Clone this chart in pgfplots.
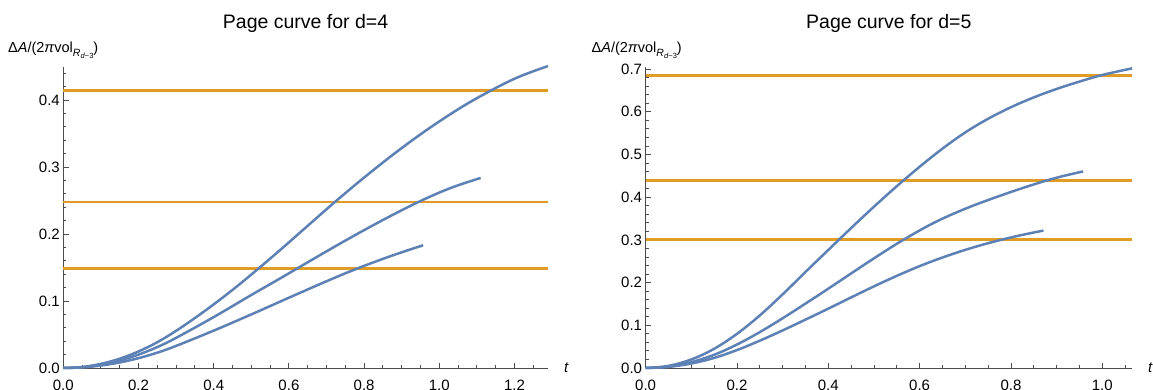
\documentclass[border=0pt]{standalone}
\usepackage{fontspec}
\setmainfont{Liberation Sans}
\usepackage{pgfplots}
\pgfplotsset{compat=1.18}

\definecolor{curveblue}{rgb}{0.368417,0.506779,0.709798}
\definecolor{islandorange}{rgb}{0.880722,0.611041,0.142051}
\definecolor{axisgray}{gray}{0.3}

\newcommand{\ticksize}{\fontsize{15}{17}\selectfont}
\newcommand{\areaLabel}{{\fontsize{14.5}{16}\selectfont Δ\textit{A}/(2\textit{π}vol\raisebox{-3.6pt}{\fontsize{10.5}{12}\selectfont\textit{R}\raisebox{-2.2pt}{\fontsize{7.5}{9}\selectfont\textit{d}−3}})}}

\pgfplotsset{
  pagecurve/.style={
    scale only axis,
    axis lines*=left,
    axis line style={axisgray, line width=0.9pt},
    every tick/.style={axisgray, line width=0.9pt},
    tick align=inside,
    major tick length=5.5pt,
    minor tick length=3pt,
    xmin=0, ymin=0,
    clip=false,
    xticklabel style={/pgf/number format/.cd, fixed, fixed zerofill, precision=1, /tikz/.cd, font=\ticksize, yshift=-8.5pt},
    yticklabel style={/pgf/number format/.cd, fixed, fixed zerofill, precision=1, /tikz/.cd, font=\ticksize},
    /pgf/number format/assume math mode=true,
    xlabel={\textit{t}},
    xlabel style={at={(rel axis cs:1,0)}, anchor=west, inner sep=0pt, xshift=16pt, font=\ticksize},
    blue curve/.style={curveblue, line width=2.5pt, smooth, tension=0.6},
    page line/.style={islandorange, line width=2.7pt},
  }
}

\begin{document}
\begin{tikzpicture}
\useasboundingbox (0,0) rectangle (1153pt,389pt);

% ---------------- d = 4 ----------------
\begin{axis}[pagecurve,
  at={(63.3pt,21pt)}, anchor=south west,
  width=484.7pt, height=300.8pt,
  xmax=1.289, ymax=0.449,
  xtick={0,0.2,0.4,0.6,0.8,1.0,1.2},
  minor xtick={0.05,0.1,0.15,0.25,0.3,0.35,0.45,0.5,0.55,0.65,0.7,0.75,0.85,0.9,0.95,1.05,1.1,1.15,1.25},
  ytick={0,0.1,0.2,0.3,0.4},
  minor ytick={0.02,0.04,0.06,0.08,0.12,0.14,0.16,0.18,0.22,0.24,0.26,0.28,0.32,0.34,0.36,0.38,0.42,0.44},
]
\addplot[page line] coordinates {(0,0.4139) (1.289,0.4139)};
\addplot[page line] coordinates {(0,0.2478) (1.289,0.2478)};
\addplot[page line] coordinates {(0,0.1485) (1.289,0.1485)};

\addplot[blue curve] coordinates {
  (0,0) (0.05,0.0015) (0.1,0.0062) (0.15,0.0139) (0.2,0.0247) (0.25,0.0385)
  (0.3,0.0555) (0.35,0.0746) (0.4,0.095) (0.45,0.1166) (0.5,0.1395) (0.575,0.1753)
  (0.65,0.2123) (0.725,0.2491) (0.8,0.2843) (0.875,0.3177) (0.95,0.3488)
  (1.025,0.3773) (1.1,0.4028) (1.2,0.4318) (1.289,0.4507)
};
\addplot[blue curve] coordinates {
  (0,0) (0.05,0.00125) (0.1,0.005) (0.15,0.01125) (0.2,0.02) (0.25,0.03125)
  (0.3,0.045) (0.4,0.076) (0.5,0.109) (0.575,0.1332) (0.65,0.1578) (0.725,0.1822)
  (0.8,0.2058) (0.875,0.2283) (0.95,0.2493) (1.03,0.2687) (1.11,0.2837)
};
\addplot[blue curve] coordinates {
  (0,0) (0.05,0.0009) (0.1,0.0037) (0.15,0.0083) (0.2,0.0147) (0.25,0.0229)
  (0.3,0.033) (0.4,0.0558) (0.5,0.080) (0.6,0.1049) (0.7,0.1295) (0.775,0.147)
  (0.85,0.1629) (0.91,0.1746) (0.957,0.1832)
};
\end{axis}

% ---------------- d = 5 ----------------
\begin{axis}[pagecurve,
  at={(645.6pt,21pt)}, anchor=south west,
  width=486.4pt, height=301pt,
  xmax=1.065, ymax=0.705,
  xtick={0,0.2,0.4,0.6,0.8,1.0},
  minor xtick={0.05,0.1,0.15,0.25,0.3,0.35,0.45,0.5,0.55,0.65,0.7,0.75,0.85,0.9,0.95,1.05},
  ytick={0,0.1,0.2,0.3,0.4,0.5,0.6,0.7},
  minor ytick={0.02,0.04,0.06,0.08,0.12,0.14,0.16,0.18,0.22,0.24,0.26,0.28,0.32,0.34,0.36,0.38,0.42,0.44,0.46,0.48,0.52,0.54,0.56,0.58,0.62,0.64,0.66,0.68},
]
\addplot[page line] coordinates {(0,0.6855) (1.065,0.6855)};
\addplot[page line] coordinates {(0,0.4396) (1.065,0.4396)};
\addplot[page line] coordinates {(0,0.3014) (1.065,0.3014)};

\addplot[blue curve] coordinates {
  (0,0) (0.05,0.005) (0.1,0.02) (0.15,0.045) (0.2,0.08) (0.25,0.1231)
  (0.3,0.1725) (0.35,0.2249) (0.4,0.2765) (0.45,0.3278) (0.5,0.3778) (0.55,0.4258)
  (0.6,0.4713) (0.65,0.5138) (0.7,0.5518) (0.75,0.5838) (0.8,0.6108) (0.85,0.6338)
  (0.9,0.6536) (0.95,0.6708) (1.0,0.6863) (1.065,0.7018)
};
\addplot[blue curve] coordinates {
  (0,0) (0.05,0.0034) (0.1,0.0138) (0.15,0.0309) (0.2,0.055) (0.25,0.0841)
  (0.3,0.1165) (0.35,0.1508) (0.4,0.1858) (0.45,0.2215) (0.5,0.2568) (0.56,0.2974)
  (0.63,0.3394) (0.7,0.373) (0.775,0.403) (0.85,0.430) (0.905,0.4471) (0.958,0.4604)
};
\addplot[blue curve] coordinates {
  (0,0) (0.05,0.0026) (0.1,0.0105) (0.15,0.0236) (0.2,0.042) (0.25,0.064)
  (0.3,0.088) (0.35,0.1133) (0.4,0.139) (0.45,0.1653) (0.5,0.1912) (0.55,0.2158)
  (0.6,0.2386) (0.65,0.2588) (0.7,0.2767) (0.75,0.2923) (0.81,0.3083) (0.871,0.3219)
};
\end{axis}

% titles and vertical-axis captions
\node[anchor=base, inner sep=0pt, font=\fontsize{19.5}{21}\selectfont] at (305.6pt,360.7pt) {Page curve for d=4};
\node[anchor=base, inner sep=0pt, font=\fontsize{19.5}{21}\selectfont] at (888.8pt,360.7pt) {Page curve for d=5};
\node[anchor=base west, inner sep=0pt] at (8pt,336.3pt) {\areaLabel};
\node[anchor=base west, inner sep=0pt] at (591.5pt,336.3pt) {\areaLabel};
\end{tikzpicture}
\end{document}
